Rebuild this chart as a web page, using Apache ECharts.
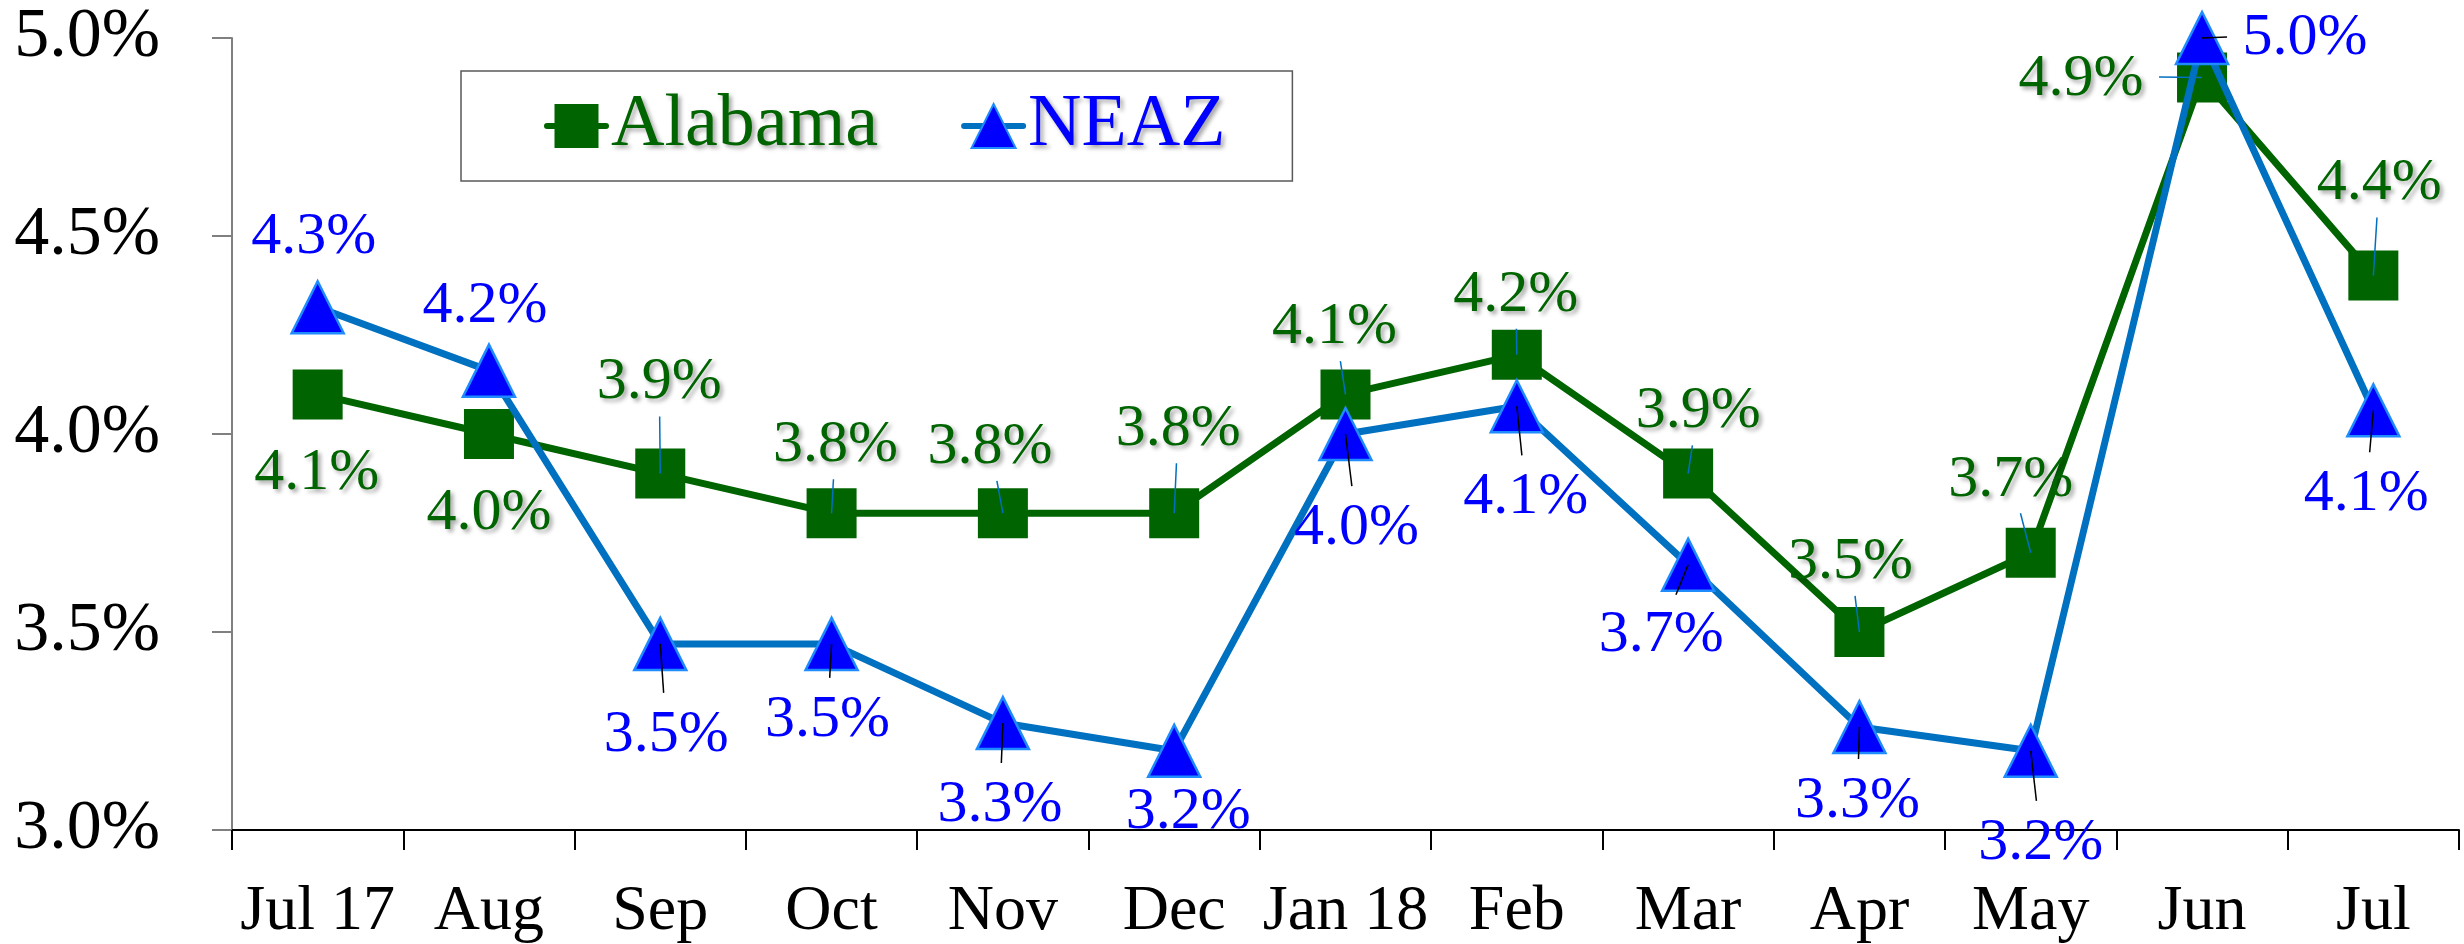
<!DOCTYPE html>
<html>
<head>
<meta charset="utf-8">
<title>Alabama vs NEAZ</title>
<script src="https://cdn.jsdelivr.net/npm/echarts@6.0.0/dist/echarts.min.js"></script>
<style>
  html, body { margin: 0; padding: 0; background: #ffffff; }
  #chart { width: 2464px; height: 944px; }
</style>
</head>
<body>
<div id="chart"></div>
<script>
// ---- data ----
const months = ['Jul 17', 'Aug', 'Sep', 'Oct', 'Nov', 'Dec', 'Jan 18', 'Feb', 'Mar', 'Apr', 'May', 'Jun', 'Jul'];
const alabama = [4.1, 4.0, 3.9, 3.8, 3.8, 3.8, 4.1, 4.2, 3.9, 3.5, 3.7, 4.9, 4.4];
const neaz = [4.32, 4.16, 3.47, 3.47, 3.27, 3.2, 4.0, 4.07, 3.67, 3.26, 3.2, 5.0, 4.06];
const yTicks = [3.0, 3.5, 4.0, 4.5, 5.0];

// ---- label placement: [dx, dy, draw leader line] relative to each point ----
const alabamaLabelPos = [
  [-1, 75, 0], [0, 75, 0], [-1, -95, 1], [4, -72, 1], [-13, -70, 1], [4, -88, 1],
  [-11, -71, 1], [-1, -64, 1], [10, -66, 1], [-9, -74, 1], [-20, -77, 1], [-121, -2, 1], [6, -96, 1]
];
const neazLabelPos = [
  [-4, -74, 0], [-4, -68, 0], [6, 87, 1], [-4, 72, 1], [-3, 78, 1], [14, 57, 0],
  [11, 90, 1], [9, 87, 1], [-27, 67, 1], [-2, 70, 1], [10, 88, 1], [103, -4, 1], [-7, 80, 1]
];

const FONT = '"Liberation Serif", "Times New Roman", serif';
const GREEN = '#006400';
const BLUE = '#0000ff';
const NEAZ_LINE = '#0070c0';

const pct = v => v.toFixed(1) + '%';

// digits sit slightly above the centre of the text box; nudge them down
const TEXT_NUDGE = 4;
// half extents of a value label box, used to stop leader lines short of the text
const HALF_W = 62, HALF_H = 22, GAP = 16;

function leaderSeries(values, layout, color) {
  return {
    type: 'custom',
    z: 5,
    silent: true,
    animation: false,
    data: values.map((v, i) => [i, v]),
    renderItem(params, api) {
      const i = api.value(0);
      const pos = layout[i];
      if (!pos[2]) return { type: 'group', children: [] };
      const p = api.coord([i, api.value(1)]);
      const dx = pos[0], dy = pos[1];
      const len = Math.hypot(dx, dy);
      const ux = dx / len, uy = dy / len;
      const ex = Math.abs(ux) > 1e-6 ? HALF_W / Math.abs(ux) : Infinity;
      const ey = Math.abs(uy) > 1e-6 ? HALF_H / Math.abs(uy) : Infinity;
      const reach = Math.max(0, len - Math.min(ex, ey) - GAP);
      return {
        type: 'line',
        shape: { x1: p[0], y1: p[1], x2: p[0] + ux * reach, y2: p[1] + uy * reach },
        style: { stroke: color, lineWidth: 1.5 }
      };
    }
  };
}

function labelled(values, layout) {
  return values.map((v, i) => ({
    value: v,
    label: { offset: [layout[i][0], layout[i][1] + TEXT_NUDGE] }
  }));
}

const chart = echarts.init(document.getElementById('chart'), null, { renderer: 'canvas' });

chart.setOption({
  animation: false,
  backgroundColor: '#ffffff',
  grid: { left: 232, right: 5, top: 38, bottom: 108, containLabel: false },
  legend: {
    left: 461,
    top: 71,
    orient: 'horizontal',
    padding: [18, 67, 18, 83],
    itemGap: 83,
    itemWidth: 59,
    itemHeight: 55,
    borderColor: '#595959',
    borderWidth: 1.5,
    lineStyle: { width: 6, cap: 'round' },
    textStyle: {
      fontFamily: FONT,
      fontSize: 74,
      textShadowColor: 'rgba(0,0,0,0.35)',
      textShadowBlur: 4,
      textShadowOffsetX: 3,
      textShadowOffsetY: 3
    },
    data: [
      { name: 'Alabama', textStyle: { color: GREEN } },
      { name: 'NEAZ', textStyle: { color: BLUE } }
    ]
  },
  xAxis: {
    type: 'category',
    data: months,
    boundaryGap: true,
    axisLine: { show: true, lineStyle: { color: '#000000', width: 2 } },
    axisTick: { show: true, length: 20, lineStyle: { color: '#000000', width: 2 } },
    axisLabel: { fontFamily: FONT, fontSize: 64, color: '#000000', margin: 50, interval: 0 },
    splitLine: { show: false }
  },
  yAxis: {
    type: 'value',
    min: yTicks[0],
    max: yTicks[yTicks.length - 1],
    interval: yTicks[1] - yTicks[0],
    axisLine: { show: true, lineStyle: { color: '#808080', width: 2 } },
    axisTick: { show: true, length: 20, lineStyle: { color: '#808080', width: 2 } },
    axisLabel: { fontFamily: FONT, fontSize: 70, color: '#000000', margin: 72, formatter: pct },
    splitLine: { show: false }
  },
  series: [
    {
      name: 'Alabama',
      type: 'line',
      data: labelled(alabama, alabamaLabelPos),
      symbol: 'rect',
      symbolSize: 50,
      z: 2,
      lineStyle: { color: GREEN, width: 7 },
      itemStyle: { color: GREEN },
      label: {
        show: true,
        position: 'inside',
        formatter: p => pct(p.value),
        fontFamily: FONT,
        fontSize: 60,
        color: GREEN,
        textShadowColor: 'rgba(0,0,0,0.35)',
        textShadowBlur: 4,
        textShadowOffsetX: 3,
        textShadowOffsetY: 3
      }
    },
    {
      name: 'NEAZ',
      type: 'line',
      data: labelled(neaz, neazLabelPos),
      symbol: 'triangle',
      symbolSize: 52,
      z: 3,
      lineStyle: { color: NEAZ_LINE, width: 7 },
      itemStyle: { color: BLUE, borderColor: '#1e8cff', borderWidth: 2.5 },
      label: {
        show: true,
        position: 'inside',
        formatter: p => pct(p.value),
        fontFamily: FONT,
        fontSize: 60,
        color: BLUE
      }
    },
    leaderSeries(alabama, alabamaLabelPos, NEAZ_LINE),
    leaderSeries(neaz, neazLabelPos, '#000000')
  ]
});
</script>
</body>
</html>
